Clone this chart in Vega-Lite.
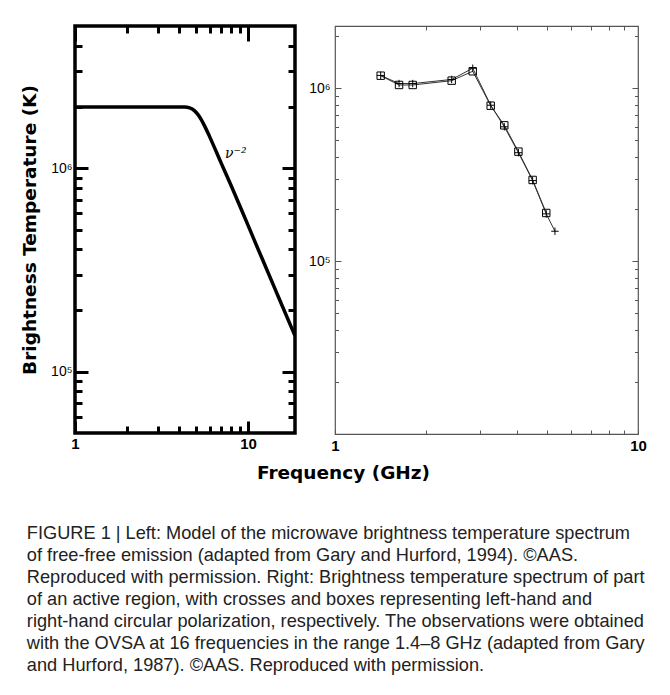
{
  "$schema": "https://vega.github.io/schema/vega-lite/v6.json",
  "background": "white",
  "padding": {"left": 18, "top": 22, "right": 5, "bottom": 5},
  "config": {
    "font": "Liberation Sans",
    "axis": {"domain": false, "grid": false, "labelFont": "Liberation Sans", "labelColor": "black"}
  },
  "datasets": {
    "model": [
      {"freq": 1.0, "T": 2000000},
      {"freq": 2.0, "T": 2000000},
      {"freq": 3.0, "T": 2000000},
      {"freq": 4.3, "T": 2000000},
      {"freq": 4.6, "T": 1980000},
      {"freq": 4.9, "T": 1920000},
      {"freq": 5.2, "T": 1810000},
      {"freq": 5.6, "T": 1620000},
      {"freq": 6.0, "T": 1430000},
      {"freq": 7.0, "T": 1060000},
      {"freq": 8.0, "T": 820000},
      {"freq": 10.0, "T": 525000},
      {"freq": 12.0, "T": 364000},
      {"freq": 15.0, "T": 233000},
      {"freq": 18.7, "T": 150000}
    ],
    "obs": [
      {"freq": 1.415, "T": 1186000, "pol": "RCP"},
      {"freq": 1.627, "T": 1048000, "pol": "RCP"},
      {"freq": 1.805, "T": 1048000, "pol": "RCP"},
      {"freq": 2.427, "T": 1110000, "pol": "RCP"},
      {"freq": 2.848, "T": 1258000, "pol": "RCP"},
      {"freq": 3.265, "T": 795000, "pol": "RCP"},
      {"freq": 3.62, "T": 612000, "pol": "RCP"},
      {"freq": 4.03, "T": 431000, "pol": "RCP"},
      {"freq": 4.49, "T": 295500, "pol": "RCP"},
      {"freq": 4.98, "T": 190300, "pol": "RCP"},
      {"freq": 1.415, "T": 1190000, "pol": "LCP"},
      {"freq": 1.627, "T": 1068000, "pol": "LCP"},
      {"freq": 1.805, "T": 1068000, "pol": "LCP"},
      {"freq": 2.427, "T": 1128000, "pol": "LCP"},
      {"freq": 2.848, "T": 1310000, "pol": "LCP"},
      {"freq": 3.265, "T": 800000, "pol": "LCP"},
      {"freq": 3.62, "T": 600000, "pol": "LCP"},
      {"freq": 4.03, "T": 425000, "pol": "LCP"},
      {"freq": 4.49, "T": 293000, "pol": "LCP"},
      {"freq": 4.98, "T": 188000, "pol": "LCP"},
      {"freq": 5.32, "T": 149200, "pol": "LCP"}
    ],
    "lbl": [{"freq": 8.5, "T": 1170000, "text": "ν⁻²"}]
  },
  "title": {
    "text": [
      "FIGURE 1 | Left: Model of the microwave brightness temperature spectrum",
      "of free-free emission (adapted from Gary and Hurford, 1994). ©AAS.",
      "Reproduced with permission. Right: Brightness temperature spectrum of part",
      "of an active region, with crosses and boxes representing left-hand and",
      "right-hand circular polarization, respectively. The observations were obtained",
      "with the OVSA at 16 frequencies in the range 1.4–8 GHz (adapted from Gary",
      "and Hurford, 1987). ©AAS. Reproduced with permission."
    ],
    "orient": "bottom",
    "anchor": "start",
    "frame": "bounds",
    "font": "Liberation Sans",
    "fontSize": 18.2,
    "fontWeight": "normal",
    "lineHeight": 22,
    "color": "#222222",
    "offset": 42,
    "dx": 8
  },
  "bounds": "flush",
  "spacing": 40,
  "hconcat": [
    {
      "width": 220,
      "height": 407,
      "view": {"stroke": "black", "strokeWidth": 3.5},
      "layer": [
        {
          "data": {"name": "model"},
          "mark": {"type": "line", "color": "black", "strokeWidth": 3.5, "clip": true, "interpolate": "monotone"},
          "encoding": {
            "x": {
              "field": "freq", "type": "quantitative",
              "scale": {"type": "log", "domain": [1, 18.7], "nice": false},
              "axis": {
                "orient": "bottom",
                "values": [1, 2, 3, 4, 5, 6, 7, 8, 9, 10],
                "labelExpr": "datum.value == 1 ? '1' : datum.value == 10 ? '10' : ''",
                "labelFontSize": 15, "labelFontWeight": "bold", "labelPadding": 15,
                "labelFlush": false,
                "tickColor": "black", "tickWidth": 3,
                "tickSize": {"condition": {"test": "datum.value == 1 || datum.value == 10", "value": -12}, "value": -7},
                "title": "Frequency (GHz)",
                "titleFont": "DejaVu Sans", "titleFontSize": 18.5, "titleFontWeight": "bold", "titleColor": "black",
                "titleX": 268, "titleY": 30, "titleBaseline": "top"
              }
            },
            "y": {
              "field": "T", "type": "quantitative",
              "scale": {"type": "log", "domain": [50000, 5000000], "nice": false},
              "axis": {
                "orient": "left",
                "values": [60000, 70000, 80000, 90000, 100000, 200000, 300000, 400000, 500000, 600000, 700000, 800000, 900000, 1000000, 2000000, 3000000, 4000000],
                "labelExpr": "datum.value == 100000 ? '10⁵' : datum.value == 1000000 ? '10⁶' : ''",
                "labelFontSize": 14, "labelPadding": 16,
                "tickColor": "black", "tickWidth": 3,
                "tickSize": {"condition": {"test": "datum.value == 100000 || datum.value == 1000000", "value": -13}, "value": -7},
                "title": "Brightness Temperature (K)",
                "titleFont": "DejaVu Sans", "titleFontSize": 18.5, "titleFontWeight": "bold", "titleColor": "black",
                "titlePadding": 11
              }
            }
          }
        },
        {
          "data": {"name": "model"},
          "mark": {"type": "line", "opacity": 0},
          "encoding": {
            "x": {
              "field": "freq", "type": "quantitative",
              "axis": {
                "orient": "top", "labels": false, "title": null,
                "values": [1, 2, 3, 4, 5, 6, 7, 8, 9, 10],
                "tickColor": "black", "tickWidth": 3,
                "tickSize": {"condition": {"test": "datum.value == 1 || datum.value == 10", "value": -15}, "value": -7}
              }
            },
            "y": {
              "field": "T", "type": "quantitative",
              "axis": {
                "orient": "right", "labels": false, "title": null,
                "values": [60000, 70000, 80000, 90000, 100000, 200000, 300000, 400000, 500000, 600000, 700000, 800000, 900000, 1000000, 2000000, 3000000, 4000000],
                "tickColor": "black", "tickWidth": 3,
                "tickSize": {"condition": {"test": "datum.value == 100000 || datum.value == 1000000", "value": -13}, "value": -7}
              }
            }
          }
        },
        {
          "data": {"name": "lbl"},
          "mark": {"type": "text", "font": "DejaVu Serif", "fontSize": 14, "fontStyle": "italic", "color": "black", "align": "center", "baseline": "middle"},
          "encoding": {
            "x": {"field": "freq", "type": "quantitative", "axis": null},
            "y": {"field": "T", "type": "quantitative", "axis": null},
            "text": {"field": "text"}
          }
        }
      ],
      "resolve": {"axis": {"x": "independent", "y": "independent"}}
    },
    {
      "width": 303,
      "height": 408,
      "view": {"stroke": "#555555", "strokeWidth": 1.2},
      "data": {"name": "obs"},
      "layer": [
        {
          "mark": {"type": "line", "color": "#333333", "strokeWidth": 1},
          "encoding": {
            "x": {
              "field": "freq", "type": "quantitative",
              "scale": {"type": "log", "domain": [1, 10], "nice": false},
              "axis": {
                "orient": "bottom",
                "values": [1, 2, 3, 4, 5, 6, 7, 8, 9, 10],
                "labelExpr": "datum.value == 1 ? '1' : datum.value == 10 ? '10' : ''",
                "labelFontSize": 15, "labelFontWeight": "bold", "labelPadding": 8,
                "labelFlush": false,
                "tickColor": "#555555", "tickWidth": 1,
                "tickSize": -4,
                "title": null
              }
            },
            "y": {
              "field": "T", "type": "quantitative",
              "scale": {"type": "log", "domain": [10000, 2300000], "nice": false},
              "axis": {
                "orient": "left",
                "values": [20000, 30000, 40000, 50000, 60000, 70000, 80000, 90000, 100000, 200000, 300000, 400000, 500000, 600000, 700000, 800000, 900000, 1000000, 2000000],
                "labelExpr": "datum.value == 100000 ? '10⁵' : datum.value == 1000000 ? '10⁶' : ''",
                "labelFontSize": 14, "labelPadding": 11,
                "tickColor": "#555555", "tickWidth": 1,
                "tickSize": {"condition": {"test": "datum.value == 100000 || datum.value == 1000000", "value": -6}, "value": -3.5},
                "title": null
              }
            },
            "detail": {"field": "pol", "type": "nominal"}
          }
        },
        {
          "mark": {"type": "point", "filled": false, "color": "black", "strokeWidth": 1, "size": 55, "opacity": 1},
          "encoding": {
            "x": {
              "field": "freq", "type": "quantitative",
              "axis": {
                "orient": "top", "labels": false, "title": null,
                "values": [2, 3, 4, 5, 6, 7, 8, 9],
                "tickColor": "#555555", "tickWidth": 1, "tickSize": -4
              }
            },
            "y": {
              "field": "T", "type": "quantitative",
              "axis": {
                "orient": "right", "labels": false, "title": null,
                "values": [20000, 30000, 40000, 50000, 60000, 70000, 80000, 90000, 100000, 200000, 300000, 400000, 500000, 600000, 700000, 800000, 900000, 1000000, 2000000],
                "tickColor": "#555555", "tickWidth": 1,
                "tickSize": {"condition": {"test": "datum.value == 100000 || datum.value == 1000000", "value": -6}, "value": -3.5}
              }
            },
            "shape": {
              "field": "pol", "type": "nominal",
              "scale": {"domain": ["LCP", "RCP"], "range": ["M-1,0L1,0M0,-1L0,1", "square"]},
              "legend": null
            }
          }
        }
      ],
      "resolve": {"axis": {"x": "independent", "y": "independent"}}
    }
  ]
}
